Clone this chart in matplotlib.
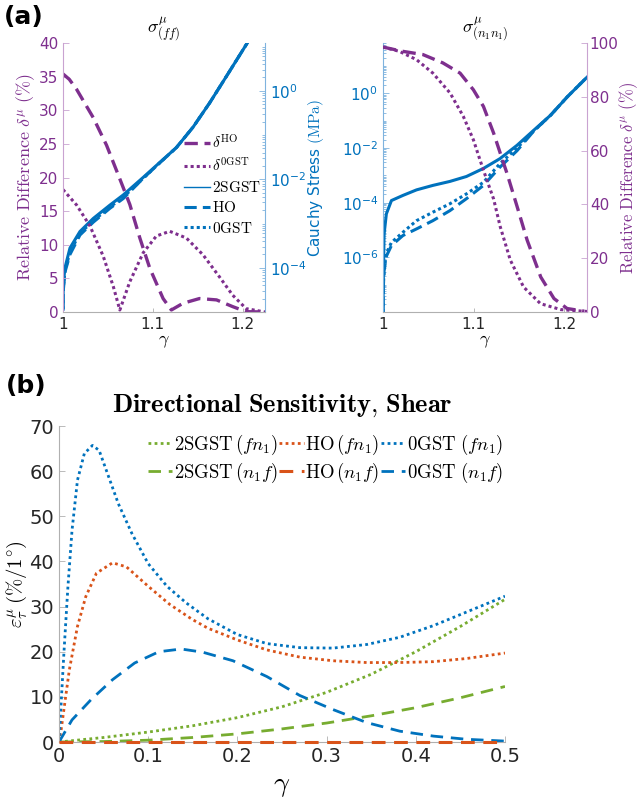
import numpy as np
import matplotlib
matplotlib.use("Agg")
import matplotlib.pyplot as plt
from matplotlib.lines import Line2D
from matplotlib.ticker import FixedLocator, LogLocator, NullFormatter, LogFormatterSciNotation

plt.rcParams['mathtext.fontset'] = 'cm'
plt.rcParams['font.family'] = 'DejaVu Sans'

PURPLE = '#7E2F8E'
BLUE = '#0072BD'
GREEN = '#77AC30'
ORANGE = '#D95319'
GRAY = '#262626'

# ---- panel (a), left: sigma_(ff) ----
gam_dHO_ff = [1.0, 1.007, 1.0152, 1.0337, 1.0485, 1.0615, 1.0744, 1.0856, 1.0967, 1.1115,
              1.1207, 1.1337, 1.152, 1.171, 1.189, 1.204, 1.225]
dHO_ff = [35.4, 34.6, 33.1, 28.9, 24.8, 20.4, 16.0, 11.0, 6.5, 2.0,
          0.3, 1.3, 2.0, 1.8, 0.8, 0.05, 0.0]
gam_d0_ff = [1.0, 1.0152, 1.03, 1.0448, 1.056, 1.0633, 1.0744, 1.0893, 1.104, 1.1189,
             1.1374, 1.156, 1.1744, 1.189, 1.204, 1.225]
d0_ff = [18.2, 15.9, 12.8, 8.3, 3.8, 0.3, 4.5, 8.8, 11.3, 12.0,
         11.0, 8.5, 5.2, 2.5, 0.5, 0.0]

gam_s_ff = [1.0, 1.0003, 1.0022, 1.0078, 1.0189, 1.0337, 1.0522, 1.067, 1.0893, 1.1078,
            1.1263, 1.1448, 1.1633, 1.1819, 1.2059, 1.215]
s2SGST_ff = [1.15e-5, 4.3e-5, 1.0e-4, 2.8e-4, 6.6e-4, 1.3e-3, 2.6e-3, 4.4e-3, 1.1e-2, 2.4e-2,
             5.2e-2, 0.15, 0.53, 2.1, 12.6, 25.0]
sHO_ff = [1.15e-5, 3.0e-5, 8.0e-5, 2.0e-4, 5.5e-4, 1.07e-3, 2.2e-3, 3.65e-3, 1.05e-2, 2.35e-2,
          5.2e-2, 0.15, 0.53, 2.1, 12.6, 25.0]
s0GST_ff = [1.15e-5, 3.5e-5, 8.5e-5, 2.3e-4, 6.0e-4, 1.15e-3, 2.35e-3, 3.9e-3, 1.05e-2, 2.35e-2,
            5.2e-2, 0.15, 0.53, 2.1, 12.6, 25.0]

# ---- panel (a), right: sigma_(n1n1) ----
gam_dHO_nn = [1.0, 1.02, 1.044, 1.066, 1.085, 1.0997, 1.1108, 1.122, 1.133, 1.1367,
              1.148, 1.159, 1.174, 1.1886, 1.203, 1.222]
dHO_nn = [98.5, 97.0, 95.7, 92.6, 88.8, 82.6, 76.4, 66.5, 55.3, 51.6,
          39.1, 26.7, 13.0, 5.0, 1.3, 0.3]
gam_d0_nn = [1.0, 1.018, 1.037, 1.055, 1.074, 1.0886, 1.0997, 1.107, 1.1145, 1.122,
             1.1293, 1.1404, 1.155, 1.1737, 1.196, 1.225]
d0_nn = [98.5, 96.9, 93.8, 88.8, 81.4, 72.7, 64.0, 56.5, 49.1, 42.0,
         31.7, 19.3, 9.3, 3.1, 0.9, 0.2]

gam_s_nn = [1.0, 1.0005, 1.0012, 1.0037, 1.0093, 1.022, 1.037, 1.055, 1.0737, 1.092,
            1.1108, 1.129, 1.1478, 1.1663, 1.1849, 1.2033, 1.2256]
s2SGST_nn = [1e-8, 3e-7, 7e-6, 3.9e-5, 1.2e-4, 1.85e-4, 2.95e-4, 4.3e-4, 6.0e-4, 9.1e-4,
             1.8e-3, 4.1e-3, 1.26e-2, 4.5e-2, 0.16, 0.75, 4.1]
sHO_nn = [1e-8, 1e-7, 3.2e-7, 1.1e-6, 2.7e-6, 6.3e-6, 1.1e-5, 2.2e-5, 5.1e-5, 1.4e-4,
          4.3e-4, 2.0e-3, 8.0e-3, 4.2e-2, 0.16, 0.75, 4.1]
s0GST_nn = [1e-8, 1e-7, 3.2e-7, 1.4e-6, 3.5e-6, 8.3e-6, 2.2e-5, 4.5e-5, 9.1e-5, 2.1e-4,
            5.6e-4, 2.7e-3, 1.0e-2, 4.2e-2, 0.16, 0.75, 4.1]

# ---- panel (b): directional sensitivity ----
gam_0fn = [0, 0.0055, 0.010, 0.0146, 0.0207, 0.0284, 0.0375, 0.045, 0.0543, 0.0665, 0.0817,
           0.1, 0.121, 0.1427, 0.167, 0.2, 0.233, 0.27, 0.307, 0.345, 0.382, 0.42, 0.457, 0.5]
e_0GST_fn = [0, 19.7, 34.4, 46.9, 58.0, 63.9, 65.7, 64.6, 59.5, 52.8, 46.2,
             39.5, 34.5, 30.8, 27.3, 23.8, 21.8, 20.9, 20.8, 21.6, 23.2, 25.8, 28.8, 32.3]
gam_HOfn = [0, 0.0024, 0.0116, 0.0207, 0.03, 0.042, 0.060, 0.0756, 0.1, 0.124, 0.149, 0.167,
            0.2, 0.233, 0.27, 0.307, 0.345, 0.382, 0.42, 0.457, 0.5]
e_HO_fn = [0, 2.7, 16.0, 25.6, 32.2, 37.4, 39.7, 38.8, 34.5, 30.5, 27.2, 25.2,
           22.6, 20.4, 18.8, 18.0, 17.6, 17.6, 17.8, 18.5, 19.7]
gam_0nf = [0, 0.0146, 0.036, 0.060, 0.0848, 0.112, 0.137, 0.161, 0.195, 0.233, 0.27, 0.307,
           0.345, 0.382, 0.42, 0.457, 0.5]
e_0GST_nf = [0, 4.9, 9.4, 13.8, 17.5, 20.0, 20.6, 19.9, 18.0, 14.5, 10.3, 7.2,
             4.3, 2.4, 1.3, 0.6, 0.2]
gam_2S = [0, 0.05, 0.1, 0.15, 0.2, 0.25, 0.3, 0.35, 0.4, 0.45, 0.5]
e_2SGST_fn = [0, 1.0, 2.2, 3.6, 5.4, 7.8, 11.0, 15.0, 20.0, 25.6, 31.6]
e_2SGST_nf = [0, 0.1, 0.4, 1.0, 1.8, 2.9, 4.2, 5.8, 7.6, 9.8, 12.3]
gam_HOnf = [0, 0.25, 0.5]
e_HO_nf = [0, 0, 0]

DASH_A = (4, 2)
DOT_A = (1, 1)
DASH_B = (4.5, 2.8)
DOT_B = (1, 1.2)

fig = plt.figure(figsize=(6.39, 8.07), dpi=100)
W, H = 639.0, 807.0


def style_twin(ax_lin, ax_log, lin_side, lin_color, log_color):
    for s in ['top']:
        ax_lin.spines[s].set_visible(False)
        ax_log.spines[s].set_visible(False)
    ax_lin.spines['bottom'].set_color('#b0b0b0')
    ax_log.spines['bottom'].set_visible(False)
    log_side = 'right' if lin_side == 'left' else 'left'
    ax_lin.spines[lin_side].set_color('#c9a3d1')
    ax_lin.spines[log_side].set_visible(False)
    ax_log.spines[log_side].set_color('#7fb3de')
    ax_log.spines[lin_side].set_visible(False)
    ax_lin.tick_params(axis='y', direction='in', colors='#c9a3d1', labelcolor=lin_color,
                       labelsize=11, length=4, width=0.6)
    ax_log.tick_params(axis='y', which='both', direction='in', colors='#7fb3de',
                       labelcolor=log_color, labelsize=11, width=0.6)
    ax_log.tick_params(axis='y', which='major', length=4)
    ax_log.tick_params(axis='y', which='minor', length=2)
    ax_lin.tick_params(axis='x', direction='in', colors='#b0b0b0', labelcolor=GRAY,
                       labelsize=11, length=3, width=0.6)
    ax_lin.set_xlim(1, 1.225)
    ax_lin.set_xticks([1, 1.1, 1.2])
    ax_lin.set_xticklabels(['1', '1.1', '1.2'])
    ax_lin.set_xlabel(r'$\gamma$', fontsize=13, labelpad=0)
    ax_log.yaxis.set_minor_locator(LogLocator(base=10, subs=np.arange(1, 10), numticks=60))
    ax_log.yaxis.set_minor_formatter(NullFormatter())
    ax_log.yaxis.set_major_formatter(LogFormatterSciNotation())


REL_LABEL = r'$\mathrm{Relative\ Difference}\ \delta^{\mu}\ (\%)$'

# left panel
a1 = fig.add_axes([63 / W, 1 - 312 / H, 202 / W, 269 / H])
a1l = a1.twinx()
a1.set_zorder(a1l.get_zorder() + 1)
a1.patch.set_visible(False)

a1l.set_yscale('log')
a1l.plot(gam_s_ff, s0GST_ff, color=BLUE, lw=2.2, dashes=DOT_A)
a1l.plot(gam_s_ff, sHO_ff, color=BLUE, lw=2.2, dashes=DASH_A)
a1l.plot(gam_s_ff, s2SGST_ff, color=BLUE, lw=2.2)
a1l.set_ylim(1e-5, 12)
a1l.yaxis.set_major_locator(FixedLocator([1e-4, 1e-2, 1e0]))
a1l.set_ylabel(r'Cauchy Stress $(\mathrm{MPa})$', color=BLUE, fontsize=11, labelpad=0)

a1.plot(gam_dHO_ff, dHO_ff, color=PURPLE, lw=2.4, dashes=DASH_A)
a1.plot(gam_d0_ff, d0_ff, color=PURPLE, lw=2.2, dashes=DOT_A)
a1.set_ylim(0, 40)
a1.set_yticks(range(0, 41, 5))
a1.set_ylabel(REL_LABEL, color=PURPLE, fontsize=13, labelpad=1)
a1.set_title(r'$\sigma^{\mu}_{(ff)}$', fontsize=13, pad=6)
style_twin(a1, a1l, 'left', PURPLE, BLUE)

handles_a = [
    Line2D([], [], color=PURPLE, lw=2.4, dashes=DASH_A),
    Line2D([], [], color=PURPLE, lw=2.2, dashes=DOT_A),
    Line2D([], [], color=BLUE, lw=1.0),
    Line2D([], [], color=BLUE, lw=2.2, dashes=DASH_A),
    Line2D([], [], color=BLUE, lw=2.2, dashes=DOT_A),
]
labels_a = [r'$\delta^{\mathrm{HO}}$', r'$\delta^{\mathrm{0GST}}$', r'$\mathrm{2SGST}$',
            r'$\mathrm{HO}$', r'$\mathrm{0GST}$']
a1.legend(handles_a, labels_a, loc='upper left', bbox_to_anchor=(0.6, 0.665), frameon=False,
          fontsize=11, handlelength=1.7, handletextpad=0.1, labelspacing=0.35,
          borderpad=0, borderaxespad=0)

# right panel
a2 = fig.add_axes([383 / W, 1 - 312 / H, 204 / W, 269 / H])
a2.set_yscale('log')
a2.plot(gam_s_nn, s0GST_nn, color=BLUE, lw=2.2, dashes=DOT_A)
a2.plot(gam_s_nn, sHO_nn, color=BLUE, lw=2.2, dashes=DASH_A)
a2.plot(gam_s_nn, s2SGST_nn, color=BLUE, lw=2.2)
a2.set_ylim(1e-8, 70)
a2.yaxis.set_major_locator(FixedLocator([1e-6, 1e-4, 1e-2, 1e0]))
a2r = a2.twinx()
a2r.plot(gam_dHO_nn, dHO_nn, color=PURPLE, lw=2.4, dashes=DASH_A)
a2r.plot(gam_d0_nn, d0_nn, color=PURPLE, lw=2.2, dashes=DOT_A)
a2r.set_ylim(0, 100)
a2r.set_yticks(range(0, 101, 20))
a2r.set_ylabel(REL_LABEL, color=PURPLE, fontsize=12, labelpad=-1)
a2.set_title(r'$\sigma^{\mu}_{(n_1n_1)}$', fontsize=13, pad=6)
# x axis belongs to the log axes here
for s in ['top']:
    a2.spines[s].set_visible(False)
    a2r.spines[s].set_visible(False)
a2.spines['bottom'].set_color('#b0b0b0')
a2r.spines['bottom'].set_visible(False)
a2.spines['left'].set_color('#7fb3de')
a2.spines['right'].set_visible(False)
a2r.spines['left'].set_visible(False)
a2r.spines['right'].set_color('#c9a3d1')
a2.tick_params(axis='y', which='both', direction='in', colors='#7fb3de', labelcolor=BLUE,
               labelsize=11, width=0.6)
a2.tick_params(axis='y', which='major', length=4)
a2.tick_params(axis='y', which='minor', length=2)
a2.yaxis.set_minor_locator(LogLocator(base=10, subs=np.arange(1, 10), numticks=80))
a2.yaxis.set_minor_formatter(NullFormatter())
a2.yaxis.set_major_formatter(LogFormatterSciNotation())
a2r.tick_params(axis='y', direction='in', colors='#c9a3d1', labelcolor=PURPLE,
                labelsize=11, length=4, width=0.6, pad=2)
a2.tick_params(axis='x', direction='in', colors='#b0b0b0', labelcolor=GRAY,
               labelsize=11, length=3, width=0.6)
a2.set_xlim(1, 1.225)
a2.set_xticks([1, 1.1, 1.2])
a2.set_xticklabels(['1', '1.1', '1.2'])
a2.set_xlabel(r'$\gamma$', fontsize=13, labelpad=0)

# panel (b)
ab = fig.add_axes([59 / W, 1 - 742 / H, 446 / W, 316 / H])
l1, = ab.plot(gam_2S, e_2SGST_fn, color=GREEN, lw=2.0, dashes=DOT_B)
l2, = ab.plot(gam_2S, e_2SGST_nf, color=GREEN, lw=2.0, dashes=DASH_B)
l3, = ab.plot(gam_HOfn, e_HO_fn, color=ORANGE, lw=2.0, dashes=DOT_B)
l4, = ab.plot(gam_HOnf, e_HO_nf, color=ORANGE, lw=2.2, dashes=DASH_B, clip_on=False, zorder=3)
l5, = ab.plot(gam_0fn, e_0GST_fn, color=BLUE, lw=2.0, dashes=DOT_B)
l6, = ab.plot(gam_0nf, e_0GST_nf, color=BLUE, lw=2.0, dashes=DASH_B)
ab.set_xlim(0, 0.5)
ab.set_ylim(0, 70)
ab.set_xticks([0, 0.1, 0.2, 0.3, 0.4, 0.5])
ab.set_xticklabels(['0', '0.1', '0.2', '0.3', '0.4', '0.5'])
ab.set_yticks(range(0, 71, 10))
for s in ['top', 'right']:
    ab.spines[s].set_visible(False)
for s in ['left', 'bottom']:
    ab.spines[s].set_color('#b0b0b0')
ab.tick_params(direction='in', colors='#b0b0b0', labelcolor=GRAY, labelsize=14,
               length=4, width=0.6)
ab.set_xlabel(r'$\gamma$', fontsize=20, labelpad=4)
ab.set_ylabel(r'$\varepsilon^{\mu}_{\tau}\,(\%/1^{\circ})$', fontsize=15, labelpad=0)
ab.set_title(r'$\mathbf{Directional\ Sensitivity{,}\ Shear}$', fontsize=19, pad=10)
labels_b = [r'$\mathrm{2SGST}\,(fn_1)$', r'$\mathrm{2SGST}\,(n_1f)$',
            r'$\mathrm{HO}\,(fn_1)$', r'$\mathrm{HO}\,(n_1f)$',
            r'$\mathrm{0GST}\ (fn_1)$', r'$\mathrm{0GST}\ (n_1f)$']
ab.legend([l1, l2, l3, l4, l5, l6], labels_b, ncol=3, loc='upper right',
          bbox_to_anchor=(1.0, 0.985), frameon=False, fontsize=13.5, handlelength=1.3,
          handletextpad=0.1, columnspacing=0.05, labelspacing=0.2, borderpad=0.1,
          borderaxespad=0)

fig.text(4 / W, 1 - 5 / H, '(a)', fontsize=18, fontweight='bold', va='top', ha='left')
fig.text(6 / W, 1 - 374 / H, '(b)', fontsize=18, fontweight='bold', va='top', ha='left')

fig.savefig('out.png', dpi=100)
